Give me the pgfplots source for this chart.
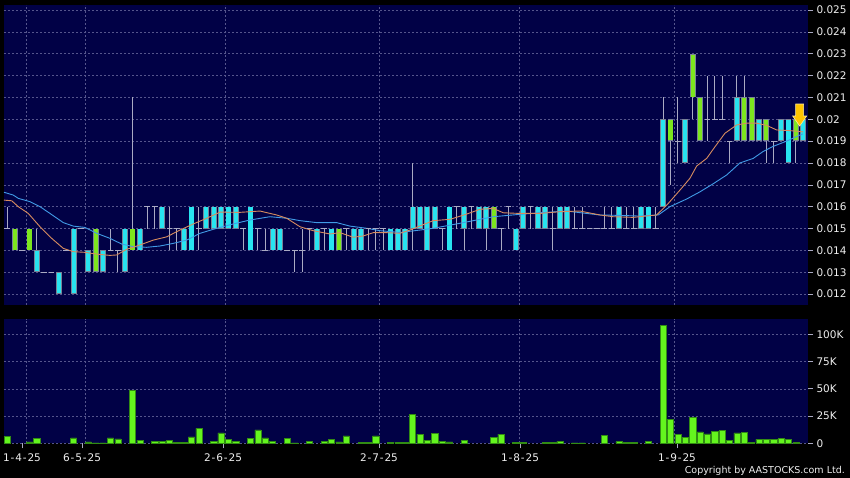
\documentclass[border=0pt]{standalone}
\usepackage{pgfplots}
\pgfplotsset{compat=1.18}
\usepackage{pgfplotstable}
\usepackage{fontspec}
\setmainfont{DejaVu Sans}
\definecolor{navy}{RGB}{1,1,70}
\definecolor{gridc}{RGB}{85,85,140}
\definecolor{cyanc}{RGB}{40,228,240}
\definecolor{greenc}{RGB}{125,230,30}
\definecolor{bord}{RGB}{120,130,150}
\definecolor{wick}{RGB}{170,170,195}
\definecolor{volc}{RGB}{100,245,30}
\definecolor{vold}{RGB}{50,140,20}
\definecolor{maorange}{RGB}{215,140,95}
\definecolor{mablue}{RGB}{65,155,230}
\definecolor{labc}{RGB}{238,238,238}
\definecolor{arrowc}{RGB}{255,196,0}
\definecolor{arrowl}{RGB}{255,235,160}

\pgfdeclareplotmark{downarrow}{%
  \pgfpathmoveto{\pgfqpoint{-4pt}{12pt}}%
  \pgfpathlineto{\pgfqpoint{4pt}{12pt}}%
  \pgfpathlineto{\pgfqpoint{4pt}{0pt}}%
  \pgfpathlineto{\pgfqpoint{7pt}{0pt}}%
  \pgfpathlineto{\pgfqpoint{0pt}{-10pt}}%
  \pgfpathlineto{\pgfqpoint{-7pt}{0pt}}%
  \pgfpathlineto{\pgfqpoint{-4pt}{0pt}}%
  \pgfpathclose
  \pgfusepathqfillstroke
}

\pgfplotstableread{
k lo hi bb bt
4 0.013 0.015 0.013 0.014
7 0.012 0.013 0.012 0.013
9 0.012 0.015 0.012 0.015
11 0.013 0.014 0.013 0.014
13 0.013 0.014 0.013 0.014
16 0.013 0.015 0.013 0.015
18 0.014 0.015 0.014 0.015
21 0.015 0.016 0.015 0.016
24 0.014 0.015 0.014 0.015
25 0.014 0.016 0.014 0.016
27 0.015 0.016 0.015 0.016
28 0.015 0.016 0.015 0.016
29 0.015 0.016 0.015 0.016
30 0.015 0.016 0.015 0.016
31 0.015 0.016 0.015 0.016
33 0.014 0.016 0.014 0.016
36 0.014 0.015 0.014 0.015
37 0.014 0.015 0.014 0.015
42 0.014 0.015 0.014 0.015
44 0.014 0.015 0.014 0.015
47 0.014 0.015 0.014 0.015
48 0.014 0.015 0.014 0.015
52 0.014 0.015 0.014 0.015
53 0.014 0.015 0.014 0.015
54 0.014 0.015 0.014 0.015
55 0.014 0.018 0.015 0.016
56 0.015 0.016 0.015 0.016
57 0.014 0.016 0.014 0.016
58 0.015 0.016 0.015 0.016
60 0.014 0.016 0.014 0.016
62 0.014 0.016 0.015 0.016
64 0.015 0.016 0.015 0.016
65 0.014 0.016 0.015 0.016
69 0.014 0.015 0.014 0.015
70 0.015 0.016 0.015 0.016
72 0.015 0.016 0.015 0.016
73 0.015 0.016 0.015 0.016
75 0.015 0.016 0.015 0.016
76 0.015 0.016 0.015 0.016
83 0.015 0.016 0.015 0.016
86 0.015 0.016 0.015 0.016
87 0.015 0.016 0.015 0.016
89 0.016 0.021 0.016 0.020
92 0.018 0.020 0.018 0.020
99 0.019 0.022 0.019 0.021
102 0.019 0.020 0.019 0.020
105 0.019 0.020 0.019 0.020
106 0.018 0.020 0.018 0.020
108 0.019 0.020 0.019 0.020
}\cyanT

\pgfplotstableread{
k lo hi bb bt
1 0.014 0.015 0.014 0.015
3 0.014 0.015 0.014 0.015
12 0.013 0.015 0.013 0.015
17 0.014 0.021 0.014 0.015
45 0.014 0.015 0.014 0.015
66 0.015 0.016 0.015 0.016
90 0.017 0.020 0.019 0.020
93 0.020 0.023 0.021 0.023
94 0.019 0.021 0.019 0.021
100 0.019 0.022 0.019 0.021
101 0.019 0.021 0.019 0.021
103 0.018 0.020 0.019 0.020
107 0.018 0.020 0.019 0.020
}\greenT

\pgfplotstableread{
k lo hi bb
0 0.015 0.016 0.015
2 0.014 0.014 0.014
5 0.013 0.013 0.013
6 0.013 0.013 0.013
8 0.014 0.014 0.014
10 0.015 0.015 0.015
14 0.014 0.015 0.014
15 0.013 0.014 0.014
19 0.015 0.016 0.016
20 0.015 0.016 0.016
22 0.014 0.016 0.015
23 0.014 0.015 0.015
26 0.014 0.016 0.015
32 0.014 0.015 0.015
34 0.014 0.015 0.015
35 0.014 0.015 0.014
38 0.014 0.014 0.014
39 0.013 0.014 0.014
40 0.013 0.015 0.014
41 0.014 0.015 0.015
43 0.014 0.015 0.015
46 0.014 0.015 0.015
49 0.014 0.015 0.015
50 0.014 0.015 0.015
51 0.014 0.015 0.015
59 0.014 0.015 0.015
61 0.015 0.016 0.016
63 0.015 0.016 0.016
67 0.014 0.015 0.015
68 0.015 0.016 0.016
71 0.015 0.016 0.016
74 0.014 0.016 0.015
77 0.015 0.016 0.015
78 0.015 0.016 0.015
79 0.015 0.015 0.015
80 0.015 0.015 0.015
81 0.015 0.016 0.015
82 0.015 0.016 0.015
84 0.015 0.016 0.015
85 0.015 0.016 0.015
88 0.015 0.016 0.015
91 0.018 0.021 0.019
95 0.019 0.022 0.020
96 0.020 0.022 0.020
97 0.020 0.022 0.020
98 0.018 0.019 0.019
104 0.018 0.019 0.019
}\flatT

\pgfplotstableread{
k v
0 6100
3 1200
4 4300
9 4900
11 1200
12 500
13 500
14 4900
15 4000
17 48300
18 3000
20 1500
21 2100
22 3000
23 900
24 900
25 5800
26 13800
28 1500
29 9500
30 3700
31 2100
33 4600
34 12200
35 4900
36 2100
38 4600
39 300
41 2100
43 1500
44 3400
45 1200
46 6700
48 600
49 900
50 6700
52 900
53 900
54 900
55 26300
56 8300
57 3000
58 9200
59 2100
60 1200
62 2800
66 5200
67 8300
69 600
70 600
73 900
74 900
75 1800
77 300
78 300
81 7300
83 1500
84 600
85 600
87 1800
89 108300
90 22000
91 8300
92 5500
93 23900
94 10400
95 8600
96 11000
97 11600
98 2800
99 9500
100 10100
101 600
102 3700
103 3700
104 3400
105 4300
106 3700
107 600
}\volT

\pgfplotsset{
  barstyle/.style={only marks, mark=*, mark size=0pt,
    mark options={draw=none, fill=none}, forget plot,
    error bars/.cd, y dir=plus, y explicit, error mark=none,
    error bar style={#1}},
}

\begin{document}
\begin{tikzpicture}
\fill[black] (0,0) rectangle (850pt,478pt);
\useasboundingbox (0,0) rectangle (850pt,478pt);

% ---------- price panel ----------
\begin{axis}[
  at={(4pt,173pt)}, anchor=south west, scale only axis,
  width=804pt, height=300pt,
  xmin=-0.45, xmax=108.65, ymin=0.0115, ymax=0.02523,
  axis background/.style={fill=navy},
  axis line style={draw=none},
  xtick={2.63,10.64,29.58,50.48,69.47,90.46}, xticklabels={},
  major x tick style={draw=none},
  ytick={0.012,0.013,0.014,0.015,0.016,0.017,0.018,0.019,0.020,0.021,0.022,0.023,0.024,0.025},
  yticklabels={0.012,0.013,0.014,0.015,0.016,0.017,0.018,0.019,0.02,0.021,0.022,0.023,0.024,0.025},
  scaled y ticks=false,
  ytick pos=right, yticklabel pos=right,
  tick align=outside, major tick length=5pt,
  major y tick style={draw=wick, line width=0.6pt},
  grid=major,
  major grid style={draw=gridc, dash pattern=on 2pt off 2pt, line width=0.5pt},
  yticklabel style={font=\fontsize{10.5}{12}\selectfont, text=labc, anchor=west},
]
% wicks
\addplot[barstyle={draw=wick, line width=0.9pt}] table[x=k, y=lo, y error plus expr=\thisrow{hi}-\thisrow{lo}] {\flatT};
\addplot[barstyle={draw=wick, line width=0.9pt}] table[x=k, y=lo, y error plus expr=\thisrow{hi}-\thisrow{lo}] {\cyanT};
\addplot[barstyle={draw=wick, line width=0.9pt}] table[x=k, y=lo, y error plus expr=\thisrow{hi}-\thisrow{lo}] {\greenT};
% flat candles
\addplot[only marks, mark=-, mark size=2.9pt, mark options={draw=wick, line width=0.9pt}, forget plot]
  table[x=k, y=bb] {\flatT};
% bodies: border then fill
\addplot[barstyle={draw=bord, line width=5.8pt}] table[x=k, y=bb, y error plus expr=\thisrow{bt}-\thisrow{bb}] {\cyanT};
\addplot[barstyle={draw=cyanc, line width=4.2pt}] table[x=k, y expr=\thisrow{bb}+0.000037, y error plus expr=\thisrow{bt}-\thisrow{bb}-0.000074] {\cyanT};
\addplot[barstyle={draw=bord, line width=5.8pt}] table[x=k, y=bb, y error plus expr=\thisrow{bt}-\thisrow{bb}] {\greenT};
\addplot[barstyle={draw=greenc, line width=4.2pt}] table[x=k, y expr=\thisrow{bb}+0.000037, y error plus expr=\thisrow{bt}-\thisrow{bb}-0.000074] {\greenT};
% 20-day MA (blue)
\addplot[mablue, line width=0.9pt, mark=none] coordinates {
(-0.45,0.01666) (0.81,0.01653) (1.49,0.01638) (3.08,0.01623) (4.44,0.01600)
(5.79,0.01569) (7.60,0.01527) (8.96,0.01511) (10.54,0.01505) (12.13,0.01478)
(13.93,0.01455) (15.52,0.01429) (17.10,0.01417) (18.91,0.01414) (20.72,0.01420)
(22.52,0.01432) (24.34,0.01447) (26.15,0.01478) (28.41,0.01501) (30.67,0.01521)
(32.93,0.01539) (35.64,0.01554) (37.91,0.01547) (39.72,0.01536) (41.98,0.01527)
(44.69,0.01527) (46.50,0.01511) (48.77,0.01501) (50.57,0.01490) (53.28,0.01482)
(56.00,0.01493) (57.80,0.01501) (61.42,0.01524) (65.94,0.01554) (69.56,0.01565)
(72.28,0.01572) (75.90,0.01580) (78.61,0.01569) (80.41,0.01562) (83.13,0.01560)
(85.84,0.01557) (88.33,0.01562) (89.92,0.01600) (92.18,0.01635) (93.99,0.01668)
(95.79,0.01705) (97.61,0.01745) (99.41,0.01800) (101.22,0.01821) (102.58,0.01853)
(103.93,0.01876) (105.75,0.01900) (107.56,0.01928) (107.97,0.01933)
};
% 10-day MA (orange)
\addplot[maorange, line width=0.9pt, mark=none] coordinates {
(-0.45,0.01630) (0.60,0.01627) (1.49,0.01600) (2.85,0.01569) (4.44,0.01508)
(6.02,0.01455) (7.60,0.01409) (8.96,0.01394) (10.54,0.01391) (12.13,0.01383)
(13.93,0.01377) (14.84,0.01379) (16.20,0.01405) (18.01,0.01425) (19.81,0.01447)
(21.63,0.01462) (23.43,0.01493) (25.24,0.01521) (27.06,0.01547) (28.86,0.01575)
(31.57,0.01574) (34.29,0.01580) (36.55,0.01562) (37.91,0.01547) (39.72,0.01508)
(41.52,0.01490) (43.78,0.01475) (45.14,0.01481) (46.95,0.01460) (48.30,0.01466)
(49.66,0.01481) (51.48,0.01481) (53.28,0.01478) (54.64,0.01493) (56.00,0.01512)
(57.80,0.01536) (60.07,0.01542) (62.33,0.01566) (64.14,0.01588) (65.94,0.01592)
(67.30,0.01572) (69.56,0.01569) (72.28,0.01569) (75.00,0.01577) (77.71,0.01580)
(80.41,0.01562) (82.23,0.01554) (84.94,0.01551) (88.11,0.01562) (89.69,0.01615)
(91.28,0.01676) (92.63,0.01730) (93.54,0.01786) (94.90,0.01821) (96.02,0.01874)
(97.38,0.01936) (98.97,0.01974) (100.33,0.01982) (101.68,0.01982) (103.04,0.01972)
(104.40,0.01951) (106.20,0.01948) (107.56,0.01944) (107.97,0.01942)
};
% signal arrow
\addplot[only marks, mark=downarrow, mark options={fill=arrowc, draw=arrowl, line width=0.6pt}]
  coordinates {(107.52,0.020149)};
\end{axis}

% ---------- volume panel ----------
\begin{axis}[
  at={(4pt,34.7pt)}, anchor=south west, scale only axis,
  width=804pt, height=124.3pt,
  xmin=-0.45, xmax=108.65, ymin=0, ymax=114000,
  axis background/.style={fill=navy},
  axis line style={draw=none},
  xtick={2.63,10.64,29.58,50.48,69.47,90.46}, xticklabels={},
  major x tick style={draw=none},
  extra x ticks={1.99,10.14,29.27,50.43,69.57,90.87},
  extra x tick labels={1\kern0.9pt-\kern0.9pt4\kern0.9pt-\kern0.9pt25,
    6\kern0.9pt-\kern0.9pt5\kern0.9pt-\kern0.9pt25,
    2\kern0.9pt-\kern0.9pt6\kern0.9pt-\kern0.9pt25,
    2\kern0.9pt-\kern0.9pt7\kern0.9pt-\kern0.9pt25,
    1\kern0.9pt-\kern0.9pt8\kern0.9pt-\kern0.9pt25,
    1\kern0.9pt-\kern0.9pt9\kern0.9pt-\kern0.9pt25},
  extra x tick style={grid=none, major x tick style={draw=wick, line width=0.6pt}},
  xtick pos=bottom,
  xticklabel style={font=\fontsize{10.5}{12}\selectfont, text=labc, yshift=-2pt},
  ytick={0,25000,50000,75000,100000},
  yticklabels={0,25K,50K,75K,100K},
  scaled y ticks=false,
  ytick pos=right, yticklabel pos=right,
  tick align=outside, major tick length=5pt,
  major y tick style={draw=wick, line width=0.6pt},
  grid=major,
  major grid style={draw=gridc, dash pattern=on 2pt off 2pt, line width=0.5pt},
  yticklabel style={font=\fontsize{10.5}{12}\selectfont, text=labc, anchor=west},
]
\addplot[ybar, bar width=6.2pt, fill=volc, draw=vold, line width=0.5pt] table[x=k, y=v] {\volT};
\end{axis}

\node[anchor=base east, inner sep=0pt, font=\fontsize{9.5}{11}\selectfont, text=labc]
  at (845pt,4.4pt) {Copyright by AASTOCKS.com Ltd.};
\end{tikzpicture}
\end{document}
